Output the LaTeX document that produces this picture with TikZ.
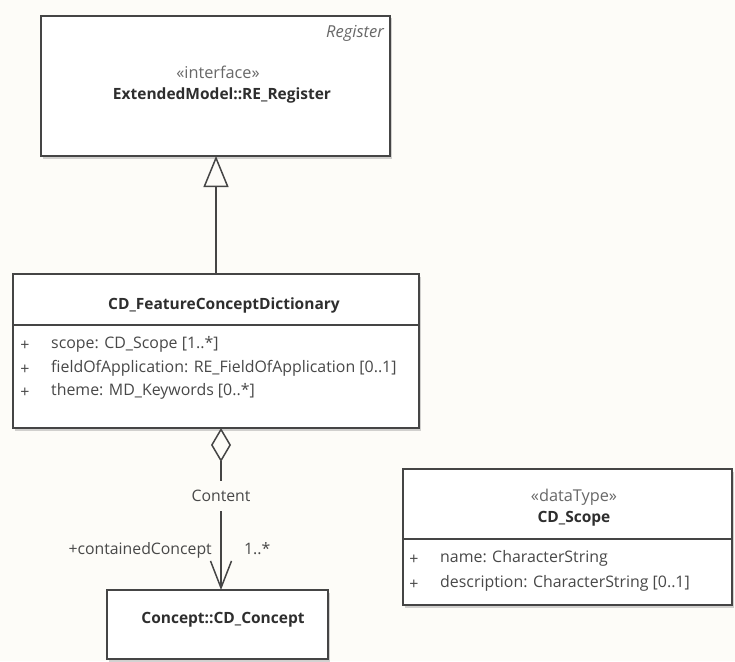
\documentclass[tikz,border=0pt]{standalone}
\usepackage{fontspec}
\setmainfont{Open Sans}
\usetikzlibrary{arrows.meta,shadows}

\definecolor{bg}{HTML}{FDFCF8}
\definecolor{boxline}{HTML}{454545}
\definecolor{txt}{HTML}{2E2E2E}
\definecolor{attr}{HTML}{484848}
\definecolor{stereo}{HTML}{686868}

\tikzset{
  classbox/.style={rectangle, draw=boxline, line width=1.8pt, fill=white,
    anchor=north west, inner sep=0pt, outer sep=0pt,
    drop shadow={shadow xshift=2pt, shadow yshift=-2.5pt, opacity=0.35}},
  divider/.style={draw=boxline, line width=1.5pt},
  cname/.style={font=\fontsize{15.5}{18}\selectfont\bfseries, text=txt, inner sep=0pt},
  stype/.style={font=\fontsize{16.3}{18}\selectfont, text=stereo, inner sep=0pt},
  attrtxt/.style={font=\fontsize{15.9}{18}\selectfont, text=attr, inner sep=0pt, anchor=mid west},
  vis/.style={font=\fontsize{15.9}{18}\selectfont, text=attr, inner sep=0pt},
  lbl/.style={font=\fontsize{15.8}{18}\selectfont, text=attr, inner sep=0pt},
  conn/.style={draw=boxline, line width=1.5pt},
  gen/.style={conn, -{Triangle[open, length=31pt, width=25pt, line width=1.5pt]}},
  agg/.style={conn, {Diamond[open, length=34pt, width=20pt, line width=1.5pt]}-{Straight Barb[length=27pt, width=21pt, line width=1.5pt]}},
}

\begin{document}
\begin{tikzpicture}[x=1pt, y=-1pt]
  % canvas
  \fill[bg] (0,0) rectangle (735,661);
  \useasboundingbox (0,0) rectangle (735,661);

  % interface RE_Register
  \node[classbox, minimum width=349pt, minimum height=140pt] (reg) at (41,16) {};
  \node[font=\fontsize{16.5}{18}\selectfont\itshape, text=stereo, inner sep=0pt, anchor=mid east] (regtag) at (384,35) {Register};
  \node[stype] (regst) at (218,72) {«interface»};
  \node[cname] (regname) at (222,95) {ExtendedModel::RE\_Register};

  % CD_FeatureConceptDictionary
  \node[classbox, minimum width=406pt, minimum height=154pt] (fcd) at (13,274) {};
  \node[cname] (fcdname) at (224,305) {CD\_FeatureConceptDictionary};
  \draw[divider] (13,325) -- (419,325);
  \node[vis] (v1) at (25,346) {+};
  \node[vis] (v2) at (25,370) {+};
  \node[vis] (v3) at (25,393) {+};
  \node[attrtxt] (a1) at (51,346) {scope: CD\_Scope [1..*]};
  \node[attrtxt] (a2) at (51,370) {fieldOfApplication: RE\_FieldOfApplication [0..1]};
  \node[attrtxt] (a3) at (51,393) {theme: MD\_Keywords [0..*]};

  % Concept::CD_Concept
  \node[classbox, minimum width=221pt, minimum height=69pt] (con) at (107,590) {};
  \node[cname] (conname) at (223,620) {Concept::CD\_Concept};

  % dataType CD_Scope
  \node[classbox, minimum width=329pt, minimum height=136pt] (scope) at (403,469) {};
  \node[stype] (scst) at (574,497) {«dataType»};
  \node[cname] (scname) at (574,519) {CD\_Scope};
  \draw[divider] (403,539) -- (732,539);
  \node[vis] (s1) at (414,560) {+};
  \node[vis] (s2) at (414,585) {+};
  \node[attrtxt] (sa1) at (440,560) {name: CharacterString};
  \node[attrtxt] (sa2) at (440,585) {description: CharacterString [0..1]};

  % generalization
  \coordinate (gx) at (216,0);
  \draw[gen] (fcd.north -| gx) -- (reg.south -| gx);

  % aggregation
  \coordinate (ax) at (221,0);
  \draw[agg] (fcd.south -| ax) -- node[pos=0.42, lbl, fill=bg, inner xsep=4pt, inner ysep=9pt] (content) {Content} (con.north -| ax);
  \node[lbl, anchor=mid east] (role) at (212,552) {+containedConcept};
  \node[lbl, anchor=mid west] (mult) at (244,552) {1..*};
\end{tikzpicture}
\end{document}
